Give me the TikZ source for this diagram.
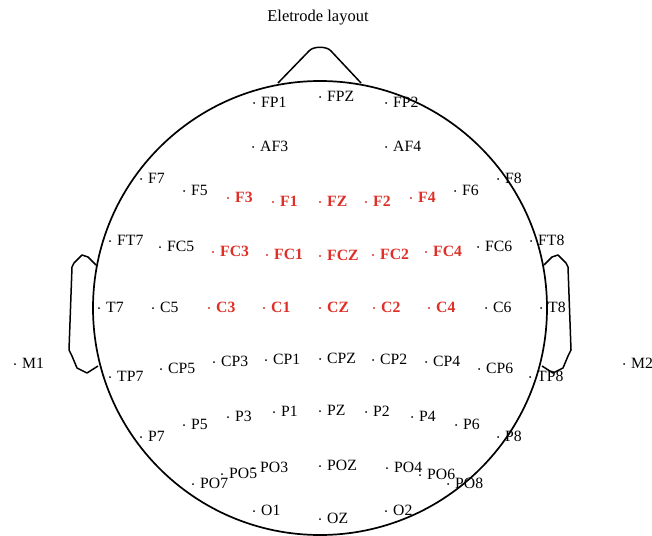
\documentclass[tikz,border=0pt]{standalone}
\usepackage{fontspec}
\setmainfont{Liberation Serif}
\definecolor{elecred}{RGB}{222,48,40}
\begin{document}
\begin{tikzpicture}[x=1pt,y=-1pt,
  outline/.style={line width=1.7pt, line join=round},
  earline/.style={line width=1.5pt, line join=round},
  lbl/.style={anchor=base west, inner sep=0pt, font=\fontsize{15.7}{18}\selectfont},
  hot/.style={lbl, text=elecred, font=\fontsize{15.7}{18}\selectfont\bfseries},
  title/.style={anchor=base, inner sep=0pt, font=\fontsize{16.5}{19}\selectfont}]
\useasboundingbox (0,0) rectangle (652,535);

% title
\node[title] (title) at (318,22) {Eletrode layout};

% head, nose and ears
\draw[outline] (320,308) circle[radius=227pt];
\draw[earline] (278,83) -- (309,51) .. controls (313,46) and (327,46) .. (331,51) -- (361,83);
\draw[earline] (96,265) -- (88,257) -- (82,255) -- (74,263) -- (72,267) -- (69,350)
  -- (72,356) -- (77,368) -- (87,373) -- (98,366);
\draw[earline] (544,265) -- (552,257) -- (558,255) -- (566,263) -- (568,267) -- (571,350)
  -- (568,356) -- (563,368) -- (553,373) -- (542,366);

% ordinary electrodes
\foreach \n/\x/\y in {FP1/254/103, FPZ/320/97, FP2/386/103, AF3/253/147, AF4/386/147,
  F7/141/179, F5/184/191, F6/455/191, F8/498/179,
  FT7/110/241, FC5/160/247, FC6/478/247, FT8/531/241,
  T7/99/308, C5/153/308, C6/486/308, T8/541/308,
  M1/15/364, M2/624/364,
  TP7/110/377, CP5/161/369, CP3/214/362, CP1/266/360, CPZ/320/359,
  CP2/373/360, CP4/426/362, CP6/479/369, TP8/530/377,
  P7/141/437, P5/184/425, P3/228/417, P1/274/412, PZ/320/411,
  P2/366/412, P4/412/417, P6/456/425, P8/498/437,
  PO7/193/484, PO5/222/474, PO3/253/468, POZ/320/466,
  PO4/387/468, PO6/420/475, PO8/448/484,
  O1/254/511, OZ/320/519, O2/386/511}{
  \fill (\x,\y) circle[radius=1pt];
  \node[lbl] (\n) at (\x+7,\y+4.5) {\n};
}

% highlighted electrodes
\foreach \n/\x/\y in {F3/228/198, F1/273/202, FZ/320/202, F2/366/202, F4/411/198,
  FC3/213/252, FC1/267/255, FCZ/320/256, FC2/373/255, FC4/426/252,
  C3/209/308, C1/264/308, CZ/320/308, C2/374/308, C4/429/308}{
  \fill[elecred] (\x,\y) circle[radius=1.2pt];
  \node[hot] (\n) at (\x+7,\y+4.5) {\n};
}
\end{tikzpicture}
\end{document}
